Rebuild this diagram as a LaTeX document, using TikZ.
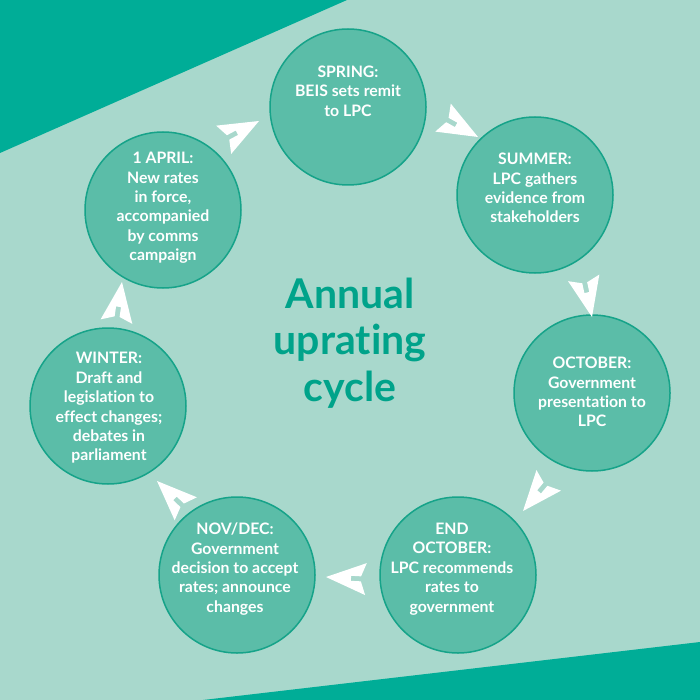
\documentclass[tikz,border=0pt]{standalone}
\usepackage{fontspec}
\setmainfont{Lato}[Ligatures={NoCommon, NoRequired, NoContextual}]
\definecolor{bgmint}{RGB}{168, 216, 204}
\definecolor{cornerteal}{RGB}{0, 173, 151}
\definecolor{stagefill}{RGB}{91, 189, 168}
\definecolor{stageline}{RGB}{22, 163, 137}
\definecolor{titleteal}{RGB}{0, 163, 138}
\usetikzlibrary{positioning, calc}

\tikzset{
  stage/.style={circle, draw=stageline, line width=1.5pt, fill=stagefill, minimum size=156pt, inner sep=0pt},
  stagetext/.style={text=white, align=center, font=\fontsize{15.8}{19.4}\selectfont\bfseries},
  chevron/.pic={
    \fill[white] (0,0) -- (-40,16) -- (-35,2.5) -- (-25,2.5) -- (-25,-2.5) -- (-35,-2.5) -- (-40,-16) -- cycle;
  }
}

\begin{document}
\begin{tikzpicture}[x=1pt, y=-1pt]
  % Background and corner bands
  \fill[bgmint] (0,0) rectangle (700,700);
  \useasboundingbox (0,0) rectangle (700,700);
  \fill[cornerteal] (0,0) -- (347,0) -- (0,153) -- cycle;
  \fill[cornerteal] (203,700) -- (700,642) -- (700,700) -- cycle;

  % Stages of the cycle
  \node[stage] (spring) at (348,107) {};
  \node[stage] (summer) at (535,195) {};
  \node[stage] (october) at (592,393) {};
  \node[stage] (endoct) at (458,575) {};
  \node[stage] (novdec) at (237,575) {};
  \node[stage] (winter) at (108,406) {};
  \node[stage] (april) at (163,210) {};

  \node[stagetext] (springtxt) at ($(spring)+(0,-16)$) {SPRING:\\BEIS sets remit\\to LPC};
  \node[stagetext] (summertxt) at ($(summer)+(0,-7)$) {SUMMER:\\LPC gathers\\evidence from\\stakeholders};
  \node[stagetext] (octobertxt) at ($(october)+(0,-1)$) {OCTOBER:\\Government\\presentation to\\LPC};
  \node[stagetext] (endocttxt) at ($(endoct)+(-6,-6)$) {END\\OCTOBER:\\LPC recommends\\rates to\\government};
  \node[stagetext] (novdectxt) at ($(novdec)+(-2,-6)$) {NOV/DEC:\\Government\\decision to accept\\rates; announce\\changes};
  \node[stagetext] (wintertxt) at ($(winter)+(1,2)$) {WINTER:\\Draft and\\legislation to\\effect changes;\\debates in\\parliament};
  \node[stagetext] (apriltxt) at ($(april)+(0,-2)$) {1 APRIL:\\New rates\\in force,\\accompanied\\by comms\\campaign};

  % Title
  \node[text=titleteal, align=center, font=\fontsize{41}{46.5}\selectfont\bfseries] (title) at (350,343) {Annual\\uprating\\cycle};

  % Arrows between stages
  \pic[rotate=28] at (259,121) {chevron};
  \pic[rotate=-29] at (478,137) {chevron};
  \pic[rotate=-78] at (592,317) {chevron};
  \pic[rotate=-130] at (523,511) {chevron};
  \pic[rotate=177] at (326,577) {chevron};
  \pic[rotate=136] at (157,481) {chevron};
  \pic[rotate=82] at (122,282) {chevron};
\end{tikzpicture}
\end{document}
